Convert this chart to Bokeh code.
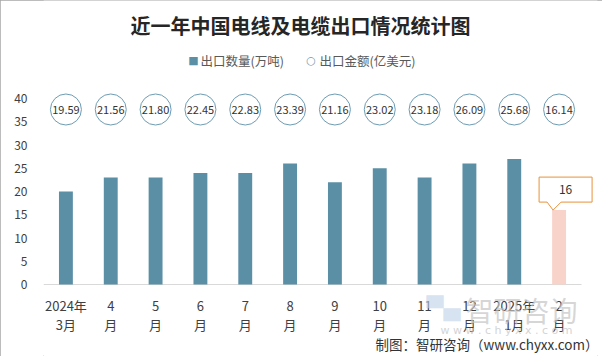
from bokeh.plotting import figure
from bokeh.models import Label, FixedTicker, Range1d
from bokeh.core.properties import value
from bokeh.embed import file_html
from bokeh.resources import INLINE

# ---- data ----
months = ["2024年\n3月", "4\n月", "5\n月", "6\n月", "7\n月", "8\n月", "9\n月",
          "10\n月", "11\n月", "12\n月", "2025年\n1月", "2\n月"]
export_volume = [20, 23, 23, 24, 24, 26, 22, 25, 23, 26, 27, 16]          # 万吨
export_value = [19.59, 21.56, 21.80, 22.45, 22.83, 23.39, 21.16, 23.02,
                23.18, 26.09, 25.68, 16.14]                                 # 亿美元
y_ticks = [0, 5, 10, 15, 20, 25, 30, 35, 40]

# ---- layout ----
W, H = 602, 356
FL, FR, FT, FB = 43, 597, 0, 356     # frame covers full height
ZERO_Y = 284                          # canvas row of value 0
px_per_x = 538 / 12.0
px_per_y = 186 / 40.0
x0 = -0.5
x1 = x0 + (FR - FL) / px_per_x
y0 = -(FB - ZERO_Y) / px_per_y
y1 = (ZERO_Y - FT) / px_per_y
ux = 1 / px_per_x
uy = 1 / px_per_y


def sx(x):  # canvas px -> label screen units (relative to frame)
    return x - FL


def sy(y):
    return FB - y


BAR = "#5b8fa6"
HILITE = "#f8d3c9"
CIRC = "#6d9cb3"
FONT = "Noto Sans CJK SC"

n = len(months)
idx = list(range(n))

p = figure(width=W, height=H, x_range=Range1d(x0, x1), y_range=Range1d(y0, y1),
           min_border_left=FL, min_border_right=W - FR, min_border_top=0,
           min_border_bottom=0, output_backend="svg", toolbar_location=None)
p.title.visible = False
p.outline_line_color = None
p.xgrid.visible = False
p.ygrid.visible = False
p.background_fill_color = "white"
p.border_fill_color = "white"
p.styles = {"outline": "1px solid #a6a6a6", "outline-offset": "-1px"}

# axes
p.xaxis.fixed_location = 0
p.xaxis.ticker = FixedTicker(ticks=idx)
p.xaxis.major_label_overrides = {i: m for i, m in zip(idx, months)}
p.xaxis.axis_line_color = None
p.xaxis.major_tick_line_color = None
p.xaxis.minor_tick_line_color = None
p.xaxis.major_label_text_font = FONT
p.xaxis.major_label_text_font_size = "13px"
p.xaxis.major_label_text_color = "#404040"
p.xaxis.major_label_text_line_height = 1.0
p.xaxis.major_label_standoff = 5

p.yaxis.ticker = FixedTicker(ticks=y_ticks)
p.yaxis.axis_line_color = None
p.yaxis.major_tick_line_color = None
p.yaxis.minor_tick_line_color = None
p.yaxis.major_label_text_font = FONT
p.yaxis.major_label_text_font_size = "12px"
p.yaxis.major_label_text_color = "#404040"
p.yaxis.major_label_standoff = 10

# baseline
p.segment(x0=[x0], y0=[0], x1=[n - 0.5], y1=[0], line_color="#d9d9d9", line_width=1)

# bars
colors = [BAR] * (n - 1) + [HILITE]
p.vbar(x=idx, top=export_volume, width=0.31, color=colors, line_color=None)

# value circles
level = (ZERO_Y - 109) / px_per_y
p.scatter(x=idx, y=[level] * n, marker="circle", size=31, fill_color="white",
          line_color=CIRC, line_width=1)
p.text(x=idx, y=[level] * n, text=[f"{v:.2f}" for v in export_value],
       text_align="center", text_baseline="middle", text_font=value(FONT),
       text_font_size="11px", text_color="#333333")

# callout on last bar
bx, by = idx[-1], export_volume[-1]
L, R, B, T = -20, 33, 8, 33
pts = [(L, B), (-12, B), (-6, 0), (2, B), (R, B), (R, T), (L, T)]
p.patch(x=[bx + dx * ux for dx, dy in pts], y=[by + dy * uy for dx, dy in pts],
        fill_color="white", line_color="#e8923a", line_width=1)
p.text(x=[bx + 6.5 * ux], y=[by + 20.5 * uy], text=[str(by)], text_align="center",
       text_baseline="middle", text_font=value(FONT), text_font_size="12px",
       text_color="#333333")

# watermark
p.add_layout(Label(x=sx(443), y=sy(308), x_units="screen", y_units="screen",
                   text="▀▄", text_align="center", text_baseline="middle",
                   text_font="DejaVu Sans", text_font_size="22px",
                   text_color="#bcd0e6", text_alpha=0.6))
p.add_layout(Label(x=sx(521), y=sy(309), x_units="screen", y_units="screen",
                   text="智研咨询", text_align="center", text_baseline="middle",
                   text_font=FONT, text_font_size="28px", text_color="#c4c4c4",
                   text_alpha=0.7))
p.add_layout(Label(x=sx(506), y=sy(330), x_units="screen", y_units="screen",
                   text="w w w . c h y x x . c o m", text_align="center",
                   text_baseline="middle", text_font="DejaVu Sans",
                   text_font_size="11px", text_color="#c8c8c8", text_alpha=0.8))

# title
p.add_layout(Label(x=sx(300), y=sy(25), x_units="screen", y_units="screen",
                   text="近一年中国电线及电缆出口情况统计图", text_align="center",
                   text_baseline="middle", text_font=FONT, text_font_style="bold",
                   text_font_size="20px", text_color="#262626"))

# legend
p.add_layout(Label(x=sx(193), y=sy(60), x_units="screen", y_units="screen", text="■",
                   text_align="center", text_baseline="middle", text_font="DejaVu Sans",
                   text_font_size="11px", text_color=BAR))
p.add_layout(Label(x=sx(200), y=sy(60), x_units="screen", y_units="screen",
                   text="出口数量(万吨)", text_baseline="middle", text_font=FONT,
                   text_font_size="12.5px", text_color="#595959"))
p.add_layout(Label(x=sx(310.5), y=sy(60), x_units="screen", y_units="screen", text="○",
                   text_align="center", text_baseline="middle", text_font="DejaVu Sans",
                   text_font_size="11px", text_color=CIRC))
p.add_layout(Label(x=sx(319), y=sy(60), x_units="screen", y_units="screen",
                   text="出口金额(亿美元)", text_baseline="middle", text_font=FONT,
                   text_font_size="12.5px", text_color="#595959"))

# footer
p.add_layout(Label(x=sx(598), y=sy(343), x_units="screen", y_units="screen",
                   text="制图：智研咨询（www.chyxx.com）", text_align="right",
                   text_baseline="middle", text_font=FONT, text_font_size="13.5px",
                   text_color="#333333"))

open("out.html", "w").write(file_html(p, INLINE))
